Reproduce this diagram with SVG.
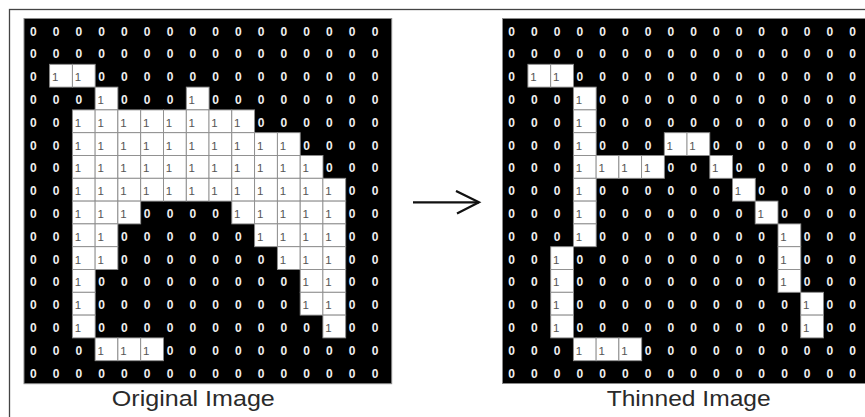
<svg xmlns="http://www.w3.org/2000/svg" width="865" height="417" viewBox="0 0 865 417">
<style>
.bg{fill:#000;stroke:#8a8a8a;stroke-width:1}
.cell{fill:#fff;stroke:#8c8c8c;stroke-width:0.9}
.row{font-family:"Liberation Sans",Arial,sans-serif;text-anchor:middle}
.z{font-weight:bold;font-size:12px;fill:#efefef}
.o{font-weight:normal;font-size:11.5px;fill:#555}
.lbl{font-family:"Liberation Sans",Arial,sans-serif;font-size:22px;fill:#2a2a2a;text-anchor:middle}
.conn{fill:none;stroke:#111;stroke-width:2.2}
</style>
<defs>
<rect id="cl" class="cell" width="22.78" height="22.8"/>
<marker id="ah" markerUnits="userSpaceOnUse" markerWidth="30" markerHeight="30" refX="24" refY="12" orient="auto" viewBox="0 0 30 30">
<path d="M1,0.6 L24,12 L2,23.2" fill="none" stroke="#111" stroke-width="2.2"/>
</marker>
</defs>
<rect x="9.5" y="9.5" width="880" height="430" fill="#fff" stroke="#444" stroke-width="1.3"/>

<g id="original">
<rect class="bg" x="24" y="18.5" width="367.7" height="365.2"/>
<g id="original-cells">
<use href="#cl" x="49.6" y="64.3"/><use href="#cl" x="72.4" y="64.3"/>
<use href="#cl" x="95.1" y="87.1"/><use href="#cl" x="186.3" y="87.1"/>
<use href="#cl" x="72.4" y="109.9"/><use href="#cl" x="95.1" y="109.9"/><use href="#cl" x="117.9" y="109.9"/><use href="#cl" x="140.7" y="109.9"/><use href="#cl" x="163.5" y="109.9"/><use href="#cl" x="186.3" y="109.9"/><use href="#cl" x="209" y="109.9"/><use href="#cl" x="231.8" y="109.9"/>
<use href="#cl" x="72.4" y="132.7"/><use href="#cl" x="95.1" y="132.7"/><use href="#cl" x="117.9" y="132.7"/><use href="#cl" x="140.7" y="132.7"/><use href="#cl" x="163.5" y="132.7"/><use href="#cl" x="186.3" y="132.7"/><use href="#cl" x="209" y="132.7"/><use href="#cl" x="231.8" y="132.7"/><use href="#cl" x="254.6" y="132.7"/><use href="#cl" x="277.4" y="132.7"/>
<use href="#cl" x="72.4" y="155.5"/><use href="#cl" x="95.1" y="155.5"/><use href="#cl" x="117.9" y="155.5"/><use href="#cl" x="140.7" y="155.5"/><use href="#cl" x="163.5" y="155.5"/><use href="#cl" x="186.3" y="155.5"/><use href="#cl" x="209" y="155.5"/><use href="#cl" x="231.8" y="155.5"/><use href="#cl" x="254.6" y="155.5"/><use href="#cl" x="277.4" y="155.5"/><use href="#cl" x="300.2" y="155.5"/>
<use href="#cl" x="72.4" y="178.3"/><use href="#cl" x="95.1" y="178.3"/><use href="#cl" x="117.9" y="178.3"/><use href="#cl" x="140.7" y="178.3"/><use href="#cl" x="163.5" y="178.3"/><use href="#cl" x="186.3" y="178.3"/><use href="#cl" x="209" y="178.3"/><use href="#cl" x="231.8" y="178.3"/><use href="#cl" x="254.6" y="178.3"/><use href="#cl" x="277.4" y="178.3"/><use href="#cl" x="300.2" y="178.3"/><use href="#cl" x="322.9" y="178.3"/>
<use href="#cl" x="72.4" y="201.1"/><use href="#cl" x="95.1" y="201.1"/><use href="#cl" x="117.9" y="201.1"/><use href="#cl" x="231.8" y="201.1"/><use href="#cl" x="254.6" y="201.1"/><use href="#cl" x="277.4" y="201.1"/><use href="#cl" x="300.2" y="201.1"/><use href="#cl" x="322.9" y="201.1"/>
<use href="#cl" x="72.4" y="223.9"/><use href="#cl" x="95.1" y="223.9"/><use href="#cl" x="254.6" y="223.9"/><use href="#cl" x="277.4" y="223.9"/><use href="#cl" x="300.2" y="223.9"/><use href="#cl" x="322.9" y="223.9"/>
<use href="#cl" x="72.4" y="246.7"/><use href="#cl" x="95.1" y="246.7"/><use href="#cl" x="277.4" y="246.7"/><use href="#cl" x="300.2" y="246.7"/><use href="#cl" x="322.9" y="246.7"/>
<use href="#cl" x="72.4" y="269.5"/><use href="#cl" x="300.2" y="269.5"/><use href="#cl" x="322.9" y="269.5"/>
<use href="#cl" x="72.4" y="292.3"/><use href="#cl" x="300.2" y="292.3"/><use href="#cl" x="322.9" y="292.3"/>
<use href="#cl" x="72.4" y="315.1"/><use href="#cl" x="322.9" y="315.1"/>
<use href="#cl" x="95.1" y="337.9"/><use href="#cl" x="117.9" y="337.9"/><use href="#cl" x="140.7" y="337.9"/>
</g>
<g id="original-values" class="row">
<text y="35.5"><tspan class="z" x="33.3 56.1 78.9 101.6 124.4 147.2 170 192.8 215.5 238.3 261.1 283.9 306.7 329.4 352.2 375">0000000000000000</tspan></text>
<text y="58.3"><tspan class="z" x="33.3 56.1 78.9 101.6 124.4 147.2 170 192.8 215.5 238.3 261.1 283.9 306.7 329.4 352.2 375">0000000000000000</tspan></text>
<text y="81.1"><tspan class="z" x="33.3">0</tspan><tspan class="o" x="55.1 77.9">11</tspan><tspan class="z" x="101.6 124.4 147.2 170 192.8 215.5 238.3 261.1 283.9 306.7 329.4 352.2 375">0000000000000</tspan></text>
<text y="103.9"><tspan class="z" x="33.3 56.1 78.9">000</tspan><tspan class="o" x="100.6">1</tspan><tspan class="z" x="124.4 147.2 170">000</tspan><tspan class="o" x="191.8">1</tspan><tspan class="z" x="215.5 238.3 261.1 283.9 306.7 329.4 352.2 375">00000000</tspan></text>
<text y="126.7"><tspan class="z" x="33.3 56.1">00</tspan><tspan class="o" x="77.9 100.6 123.4 146.2 169 191.8 214.5 237.3">11111111</tspan><tspan class="z" x="261.1 283.9 306.7 329.4 352.2 375">000000</tspan></text>
<text y="149.5"><tspan class="z" x="33.3 56.1">00</tspan><tspan class="o" x="77.9 100.6 123.4 146.2 169 191.8 214.5 237.3 260.1 282.9">1111111111</tspan><tspan class="z" x="306.7 329.4 352.2 375">0000</tspan></text>
<text y="172.3"><tspan class="z" x="33.3 56.1">00</tspan><tspan class="o" x="77.9 100.6 123.4 146.2 169 191.8 214.5 237.3 260.1 282.9 305.7">11111111111</tspan><tspan class="z" x="329.4 352.2 375">000</tspan></text>
<text y="195.1"><tspan class="z" x="33.3 56.1">00</tspan><tspan class="o" x="77.9 100.6 123.4 146.2 169 191.8 214.5 237.3 260.1 282.9 305.7 328.4">111111111111</tspan><tspan class="z" x="352.2 375">00</tspan></text>
<text y="217.9"><tspan class="z" x="33.3 56.1">00</tspan><tspan class="o" x="77.9 100.6 123.4">111</tspan><tspan class="z" x="147.2 170 192.8 215.5">0000</tspan><tspan class="o" x="237.3 260.1 282.9 305.7 328.4">11111</tspan><tspan class="z" x="352.2 375">00</tspan></text>
<text y="240.7"><tspan class="z" x="33.3 56.1">00</tspan><tspan class="o" x="77.9 100.6">11</tspan><tspan class="z" x="124.4 147.2 170 192.8 215.5 238.3">000000</tspan><tspan class="o" x="260.1 282.9 305.7 328.4">1111</tspan><tspan class="z" x="352.2 375">00</tspan></text>
<text y="263.5"><tspan class="z" x="33.3 56.1">00</tspan><tspan class="o" x="77.9 100.6">11</tspan><tspan class="z" x="124.4 147.2 170 192.8 215.5 238.3 261.1">0000000</tspan><tspan class="o" x="282.9 305.7 328.4">111</tspan><tspan class="z" x="352.2 375">00</tspan></text>
<text y="286.3"><tspan class="z" x="33.3 56.1">00</tspan><tspan class="o" x="77.9">1</tspan><tspan class="z" x="101.6 124.4 147.2 170 192.8 215.5 238.3 261.1 283.9">000000000</tspan><tspan class="o" x="305.7 328.4">11</tspan><tspan class="z" x="352.2 375">00</tspan></text>
<text y="309.1"><tspan class="z" x="33.3 56.1">00</tspan><tspan class="o" x="77.9">1</tspan><tspan class="z" x="101.6 124.4 147.2 170 192.8 215.5 238.3 261.1 283.9">000000000</tspan><tspan class="o" x="305.7 328.4">11</tspan><tspan class="z" x="352.2 375">00</tspan></text>
<text y="331.9"><tspan class="z" x="33.3 56.1">00</tspan><tspan class="o" x="77.9">1</tspan><tspan class="z" x="101.6 124.4 147.2 170 192.8 215.5 238.3 261.1 283.9 306.7">0000000000</tspan><tspan class="o" x="328.4">1</tspan><tspan class="z" x="352.2 375">00</tspan></text>
<text y="354.7"><tspan class="z" x="33.3 56.1 78.9">000</tspan><tspan class="o" x="100.6 123.4 146.2">111</tspan><tspan class="z" x="170 192.8 215.5 238.3 261.1 283.9 306.7 329.4 352.2 375">0000000000</tspan></text>
<text y="377.5"><tspan class="z" x="33.3 56.1 78.9 101.6 124.4 147.2 170 192.8 215.5 238.3 261.1 283.9 306.7 329.4 352.2 375">0000000000000000</tspan></text>
</g>
<text id="original-label" class="lbl" x="193.3" y="406" textLength="163" lengthAdjust="spacingAndGlyphs">Original Image</text>
</g>

<g id="thinned">
<rect class="bg" x="502.5" y="18.5" width="400" height="365"/>
<g id="thinned-cells">
<use href="#cl" x="527.9" y="64.3"/><use href="#cl" x="550.7" y="64.3"/>
<use href="#cl" x="573.4" y="87.1"/>
<use href="#cl" x="573.4" y="109.9"/>
<use href="#cl" x="573.4" y="132.7"/><use href="#cl" x="664.3" y="132.7"/><use href="#cl" x="687" y="132.7"/>
<use href="#cl" x="573.4" y="155.5"/><use href="#cl" x="596.1" y="155.5"/><use href="#cl" x="618.9" y="155.5"/><use href="#cl" x="641.6" y="155.5"/><use href="#cl" x="709.8" y="155.5"/>
<use href="#cl" x="573.4" y="178.3"/><use href="#cl" x="732.5" y="178.3"/>
<use href="#cl" x="573.4" y="201.1"/><use href="#cl" x="755.2" y="201.1"/>
<use href="#cl" x="573.4" y="223.9"/><use href="#cl" x="778" y="223.9"/>
<use href="#cl" x="550.7" y="246.7"/><use href="#cl" x="778" y="246.7"/>
<use href="#cl" x="550.7" y="269.5"/><use href="#cl" x="778" y="269.5"/>
<use href="#cl" x="550.7" y="292.3"/><use href="#cl" x="800.7" y="292.3"/>
<use href="#cl" x="550.7" y="315.1"/><use href="#cl" x="800.7" y="315.1"/>
<use href="#cl" x="573.4" y="337.9"/><use href="#cl" x="596.1" y="337.9"/><use href="#cl" x="618.9" y="337.9"/>
</g>
<g id="thinned-values" class="row">
<text y="35.5"><tspan class="z" x="511.7 534.4 557.2 579.9 602.6 625.4 648.1 670.8 693.5 716.3 739 761.7 784.5 807.2 829.9 852.7">0000000000000000</tspan></text>
<text y="58.3"><tspan class="z" x="511.7 534.4 557.2 579.9 602.6 625.4 648.1 670.8 693.5 716.3 739 761.7 784.5 807.2 829.9 852.7">0000000000000000</tspan></text>
<text y="81.1"><tspan class="z" x="511.7">0</tspan><tspan class="o" x="533.4 556.2">11</tspan><tspan class="z" x="579.9 602.6 625.4 648.1 670.8 693.5 716.3 739 761.7 784.5 807.2 829.9 852.7">0000000000000</tspan></text>
<text y="103.9"><tspan class="z" x="511.7 534.4 557.2">000</tspan><tspan class="o" x="578.9">1</tspan><tspan class="z" x="602.6 625.4 648.1 670.8 693.5 716.3 739 761.7 784.5 807.2 829.9 852.7">000000000000</tspan></text>
<text y="126.7"><tspan class="z" x="511.7 534.4 557.2">000</tspan><tspan class="o" x="578.9">1</tspan><tspan class="z" x="602.6 625.4 648.1 670.8 693.5 716.3 739 761.7 784.5 807.2 829.9 852.7">000000000000</tspan></text>
<text y="149.5"><tspan class="z" x="511.7 534.4 557.2">000</tspan><tspan class="o" x="578.9">1</tspan><tspan class="z" x="602.6 625.4 648.1">000</tspan><tspan class="o" x="669.8 692.5">11</tspan><tspan class="z" x="716.3 739 761.7 784.5 807.2 829.9 852.7">0000000</tspan></text>
<text y="172.3"><tspan class="z" x="511.7 534.4 557.2">000</tspan><tspan class="o" x="578.9 601.6 624.4 647.1">1111</tspan><tspan class="z" x="670.8 693.5">00</tspan><tspan class="o" x="715.3">1</tspan><tspan class="z" x="739 761.7 784.5 807.2 829.9 852.7">000000</tspan></text>
<text y="195.1"><tspan class="z" x="511.7 534.4 557.2">000</tspan><tspan class="o" x="578.9">1</tspan><tspan class="z" x="602.6 625.4 648.1 670.8 693.5 716.3">000000</tspan><tspan class="o" x="738">1</tspan><tspan class="z" x="761.7 784.5 807.2 829.9 852.7">00000</tspan></text>
<text y="217.9"><tspan class="z" x="511.7 534.4 557.2">000</tspan><tspan class="o" x="578.9">1</tspan><tspan class="z" x="602.6 625.4 648.1 670.8 693.5 716.3 739">0000000</tspan><tspan class="o" x="760.7">1</tspan><tspan class="z" x="784.5 807.2 829.9 852.7">0000</tspan></text>
<text y="240.7"><tspan class="z" x="511.7 534.4 557.2">000</tspan><tspan class="o" x="578.9">1</tspan><tspan class="z" x="602.6 625.4 648.1 670.8 693.5 716.3 739 761.7">00000000</tspan><tspan class="o" x="783.5">1</tspan><tspan class="z" x="807.2 829.9 852.7">000</tspan></text>
<text y="263.5"><tspan class="z" x="511.7 534.4">00</tspan><tspan class="o" x="556.2">1</tspan><tspan class="z" x="579.9 602.6 625.4 648.1 670.8 693.5 716.3 739 761.7">000000000</tspan><tspan class="o" x="783.5">1</tspan><tspan class="z" x="807.2 829.9 852.7">000</tspan></text>
<text y="286.3"><tspan class="z" x="511.7 534.4">00</tspan><tspan class="o" x="556.2">1</tspan><tspan class="z" x="579.9 602.6 625.4 648.1 670.8 693.5 716.3 739 761.7">000000000</tspan><tspan class="o" x="783.5">1</tspan><tspan class="z" x="807.2 829.9 852.7">000</tspan></text>
<text y="309.1"><tspan class="z" x="511.7 534.4">00</tspan><tspan class="o" x="556.2">1</tspan><tspan class="z" x="579.9 602.6 625.4 648.1 670.8 693.5 716.3 739 761.7 784.5">0000000000</tspan><tspan class="o" x="806.2">1</tspan><tspan class="z" x="829.9 852.7">00</tspan></text>
<text y="331.9"><tspan class="z" x="511.7 534.4">00</tspan><tspan class="o" x="556.2">1</tspan><tspan class="z" x="579.9 602.6 625.4 648.1 670.8 693.5 716.3 739 761.7 784.5">0000000000</tspan><tspan class="o" x="806.2">1</tspan><tspan class="z" x="829.9 852.7">00</tspan></text>
<text y="354.7"><tspan class="z" x="511.7 534.4 557.2">000</tspan><tspan class="o" x="578.9 601.6 624.4">111</tspan><tspan class="z" x="648.1 670.8 693.5 716.3 739 761.7 784.5 807.2 829.9 852.7">0000000000</tspan></text>
<text y="377.5"><tspan class="z" x="511.7 534.4 557.2 579.9 602.6 625.4 648.1 670.8 693.5 716.3 739 761.7 784.5 807.2 829.9 852.7">0000000000000000</tspan></text>
</g>
<text id="thinned-label" class="lbl" x="688.7" y="406" textLength="164" lengthAdjust="spacingAndGlyphs">Thinned Image</text>
</g>

<g id="connectors">
<path class="conn" d="M413,202.3 H479" marker-end="url(#ah)"/>
</g>
</svg>
